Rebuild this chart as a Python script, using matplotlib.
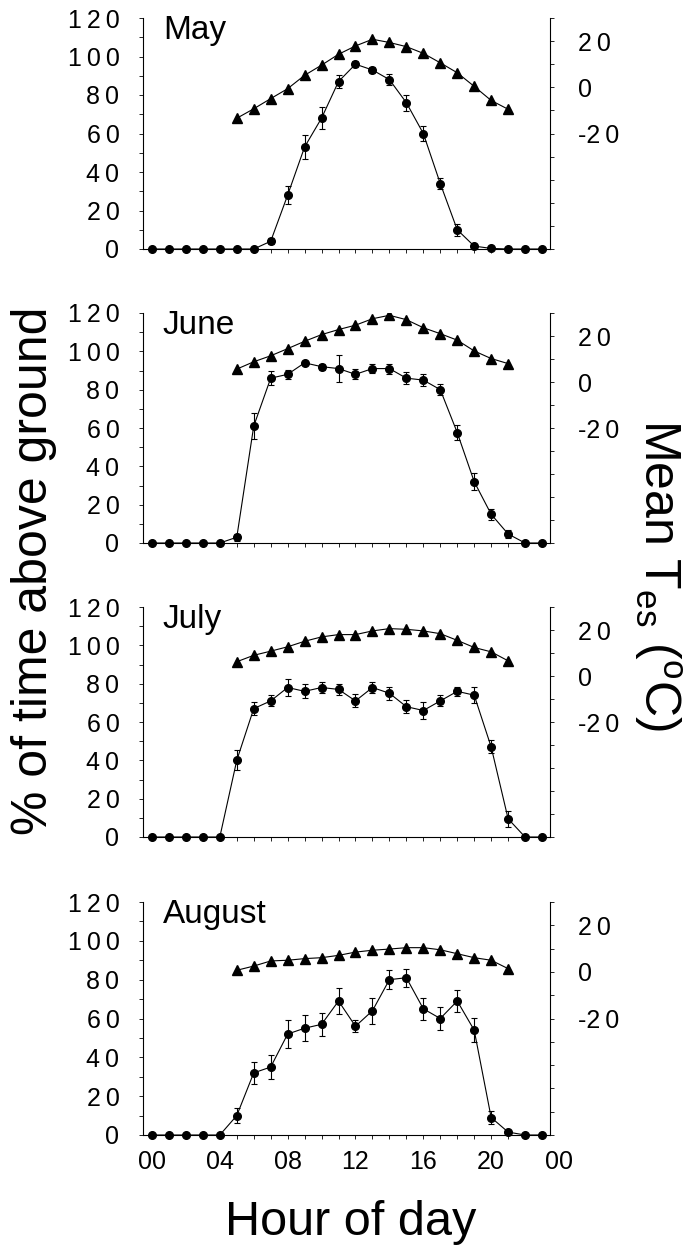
import matplotlib
matplotlib.use("Agg")
import matplotlib.pyplot as plt
from matplotlib.ticker import FixedLocator, FixedFormatter, MultipleLocator

plt.rcParams['font.family'] = ['Liberation Sans', 'DejaVu Sans']

# hours of the day for the % series, and for the temperature series
hours = list(range(24))
tes_hours = list(range(5, 22))
months = ['May', 'June', 'July', 'August']

# % of time above ground (circles) with error bars
may_pct = [0, 0, 0, 0, 0, 0, 0, 4, 28, 53, 68, 87, 96, 93, 88, 76, 60, 34, 10, 1.5, 0.3, 0, 0, 0]
may_err = [0, 0, 0, 0, 0, 0, 0, 1.5, 4.7, 6, 5.8, 3.5, 1.5, 1.8, 2.9, 4.2, 4, 3, 3, 1.3, 0, 0, 0, 0]
june_pct = [0, 0, 0, 0, 0, 3, 61, 86, 88, 94, 92, 91, 88, 91, 91, 86, 85, 80, 57.6, 32, 15, 4.7, 0, 0]
june_err = [0, 0, 0, 0, 0, 1.8, 6.7, 3.6, 2.2, 1.1, 1.6, 7, 2.6, 2.4, 2.6, 3.2, 3, 2.9, 4, 4.3, 3, 2, 0, 0]
july_pct = [0, 0, 0, 0, 0, 40, 67, 71, 78, 76, 78, 77, 71, 78, 75, 68, 66, 71, 76, 74, 47, 9.5, 0, 0]
july_err = [0, 0, 0, 0, 0, 5.2, 3.2, 2.9, 4.6, 3.7, 2.7, 2.7, 3.4, 2.8, 3.3, 3.5, 4.3, 2.9, 2.4, 4.3, 3.4, 4.2, 0, 0]
aug_pct = [0, 0, 0, 0, 0, 10, 32, 35, 52, 55, 57, 69, 56, 64, 80, 81, 65, 60, 69, 54, 9, 1.5, 0, 0]
aug_err = [0, 0, 0, 0, 0, 3.7, 5.6, 6.4, 7.3, 6.7, 6, 6.9, 3.2, 6.7, 4.9, 4.7, 5.7, 5.8, 5.8, 6.2, 3.2, 1, 0, 0]

# mean Tes (triangles, right axis)
may_tes = [-13.4, -9.3, -4.9, -0.6, 5.2, 9.6, 14.3, 17.9, 20.8, 19.4, 17.6, 14.7, 10.6, 6.3, 0.4, -5.7, -9.5]
june_tes = [5.6, 8.8, 11.4, 14.5, 17.7, 20.6, 22.8, 24.7, 27.5, 29.0, 27.1, 23.6, 21.0, 18.2, 13.5, 10.2, 8.0]
july_tes = [6.2, 9.0, 10.8, 12.7, 15.1, 17.0, 18.0, 18.0, 19.6, 20.6, 20.3, 19.6, 18.4, 15.5, 12.4, 10.5, 6.6]
aug_tes = [0.7, 2.5, 4.7, 5.0, 5.7, 6.1, 7.1, 8.5, 9.3, 9.8, 10.4, 10.4, 9.5, 7.8, 6.1, 5.0, 1.4]

x_ticks = [0, 4, 8, 12, 16, 20]
x_labels = ['00', '04', '08', '12', '16', '20']
left_ticks = [0, 20, 40, 60, 80, 100, 120]
right_ticks = [-20, 0, 20]

pct_data = [may_pct, june_pct, july_pct, aug_pct]
err_data = [may_err, june_err, july_err, aug_err]
tes_data = [may_tes, june_tes, july_tes, aug_tes]

SP = '\u2009'


def spaced(s):
    """put thin spaces between the digits"""
    if s.startswith('-'):
        return '-' + SP.join(s[1:])
    return SP.join(s)


fig = plt.figure(figsize=(6.84, 12.49), dpi=100)

# panel extents in pixels (top, bottom)
panel_px = [(18, 249), (313, 543), (607, 837), (902, 1135)]

for i, name in enumerate(months):
    top, bot = panel_px[i]
    ax = fig.add_axes([143 / 684, 1 - bot / 1249, 407 / 684, (bot - top) / 1249])
    ax2 = ax.twinx()

    pct = pct_data[i]
    err = err_data[i]
    ax.plot(hours, pct, color='black', lw=0.8, marker='o', ms=5.5, clip_on=False, zorder=3)
    eh = [h for h, e in zip(hours, err) if e > 0]
    ep = [p for p, e in zip(pct, err) if e > 0]
    ee = [e for e in err if e > 0]
    ax.errorbar(eh, ep, yerr=ee, fmt='none', ecolor='black', elinewidth=0.8,
                capsize=2.5, capthick=0.8, zorder=3)

    ax2.plot(tes_hours, tes_data[i], color='black', lw=0.8, marker='^', ms=7, zorder=3)

    ax.set_xlim(-0.53, 23.47)
    ax.set_ylim(0, 120)
    ax2.set_ylim(-70, 30)

    for a in (ax, ax2):
        a.spines['top'].set_visible(False)
        for s in a.spines.values():
            s.set_linewidth(0.8)
    ax.spines['right'].set_visible(False)
    ax2.spines['left'].set_visible(False)
    ax2.spines['bottom'].set_visible(False)

    ax.yaxis.set_major_locator(FixedLocator(left_ticks))
    ax.yaxis.set_major_formatter(FixedFormatter([spaced(str(t)) for t in left_ticks]))
    ax.yaxis.set_minor_locator(MultipleLocator(10))
    ax.tick_params(axis='y', which='both', direction='out', length=3, width=0.6,
                   labelsize=18, pad=14)

    ax2.yaxis.set_major_locator(FixedLocator(right_ticks))
    ax2.yaxis.set_major_formatter(FixedFormatter([spaced(str(t)) for t in right_ticks]))
    ax2.yaxis.set_minor_locator(MultipleLocator(10))
    ax2.tick_params(axis='y', which='both', direction='out', length=3, width=0.6,
                    labelsize=18, pad=17)

    ax.xaxis.set_major_locator(FixedLocator(x_ticks))
    ax.xaxis.set_minor_locator(MultipleLocator(1))
    ax.tick_params(axis='x', which='both', direction='out', length=3, width=0.6,
                   labelsize=18, pad=8)
    if i == len(months) - 1:
        ax.set_xticklabels(x_labels)
        # midnight at the end of the day sits just past the axis
        ax.annotate('00', xy=(24, 0), xycoords=('data', 'axes fraction'),
                    xytext=(0, -3 - 8), textcoords='offset points',
                    ha='center', va='top', fontsize=18, annotation_clip=False)
    else:
        ax.set_xticklabels([])

    ax.text(0.049, 1.015, name, transform=ax.transAxes, fontsize=24, ha='left', va='top')

fig.text(0.05, 0.543, '% of time above ground', rotation=90, fontsize=36,
         ha='center', va='center')
fig.text(0.962, 0.54, 'Mean T$\\mathregular{_{es}}$ ($\\mathregular{^o}$C)', rotation=270,
         fontsize=36, ha='center', va='center')
fig.text(0.513, 0.0112, 'Hour of day', fontsize=35, ha='center', va='baseline')

fig.savefig('out.png', dpi=100)
